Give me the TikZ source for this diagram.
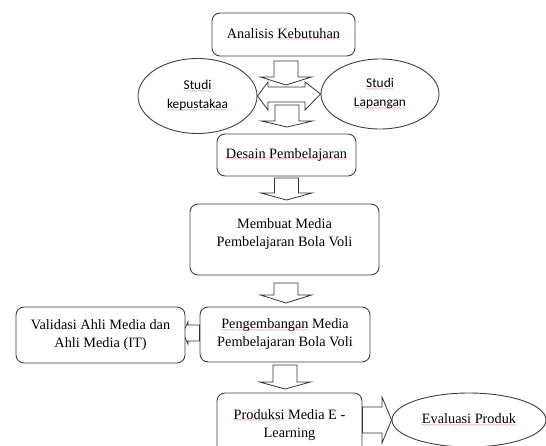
\documentclass[tikz,border=0pt]{standalone}
\usepackage{fontspec}
\setmainfont{Liberation Serif}
\newfontfamily\calib{Carlito}
\usetikzlibrary{shapes.geometric}
\font\mywave=lasy6 scaled 800
\newcommand\rw[1]{\setbox0\hbox{#1}\leavevmode\rlap{\copy0}\raisebox{-2.4pt}{\textcolor{red}{\hbox to \wd0{\xleaders\hbox{\mywave\char58}\hfil}}}}
\tikzset{
  box/.style={draw=black!75, line width=0.9pt, rounded corners=8pt, fill=white,
    align=center, inner sep=0pt, font=\fontsize{14.3}{18}\selectfont},
  oval/.style={draw=black!75, line width=0.9pt, ellipse, fill=white, align=center,
    inner sep=0pt},
  blockarrow/.style={draw=black!80, line width=0.8pt, fill=white, line join=miter},
}
\newcommand\darr[4]{\draw[blockarrow] (#1-12,#2) -- (#1+12,#2) -- (#1+12,#3) -- (#1+25.5,#3) -- (#1,#4) -- (#1-25.5,#3) -- (#1-12,#3) -- cycle;}
\begin{document}
\begin{tikzpicture}[x=1pt,y=-1pt]
\clip (0,0) rectangle (546,445);
\fill[white] (0,0) rectangle (546,445);
% ellipses
\node[oval, minimum width=119pt, minimum height=75pt, font=\calib\fontsize{13.4}{19}\selectfont] (kep) at (197.5,96) {\rw{Studi}\\\rw{kepustakaa}};
\node[oval, minimum width=118pt, minimum height=70pt, font=\calib\fontsize{13.4}{19}\selectfont] (lap) at (380,94) {\rw{Studi}\\\rw{Lapangan}};
\node[oval, minimum width=154pt, minimum height=54pt, font=\fontsize{14.3}{18}\selectfont] (eval) at (469,420) {\rw{Evaluasi Produk}};
% boxes
\node[box, minimum width=143pt, minimum height=43pt] (ana) at (283.5,34.5) {Analisis \rw{Kebutuhan}};
\node[box, minimum width=139pt, minimum height=42pt] (des) at (286.5,155) {\rw{Desain Pembelajaran}};
\node[box, minimum width=189pt, minimum height=71pt] (mem) at (284.5,239.5) {Membuat Media\\Pembelajaran Bola Voli\\[-10pt]\strut};
\node[box, minimum width=170pt, minimum height=55pt] (peng) at (285,334.5) {\rw{Pengembangan} Media\\Pembelajaran Bola Voli};
\node[box, minimum width=145pt, minimum height=64pt] (prod) at (289.5,425) {\rw{Produksi} Media E -\\Learning};
% arrows
\darr{286}{61}{77}{85}
\darr{287}{105}{121}{127}
\darr{286.5}{178}{193}{200}
\darr{286}{283}{295}{303}
\darr{285}{365}{382}{389}
\draw[blockarrow] (kep.east) -- (268,82) -- (268,87) -- (305,87) -- (305,82) -- (lap.west) -- (305,110) -- (305,102) -- (268,102) -- (268,110) -- cycle;
\draw[blockarrow] (183,333) -- (188,322) -- (188,325) -- (peng.west |- 0,325) -- (peng.west |- 0,341) -- (188,341) -- (188,344) -- cycle;
\draw[blockarrow] (prod.east |- 0,407) -- (382,407) -- (382,397) -- (eval.west) -- (382,443) -- (382,433) -- (prod.east |- 0,433) -- cycle;
\node[box, minimum width=169pt, minimum height=56pt] (val) at (100.5,335) {Validasi Ahli Media dan\\Ahli Media (IT)};
\end{tikzpicture}
\end{document}
